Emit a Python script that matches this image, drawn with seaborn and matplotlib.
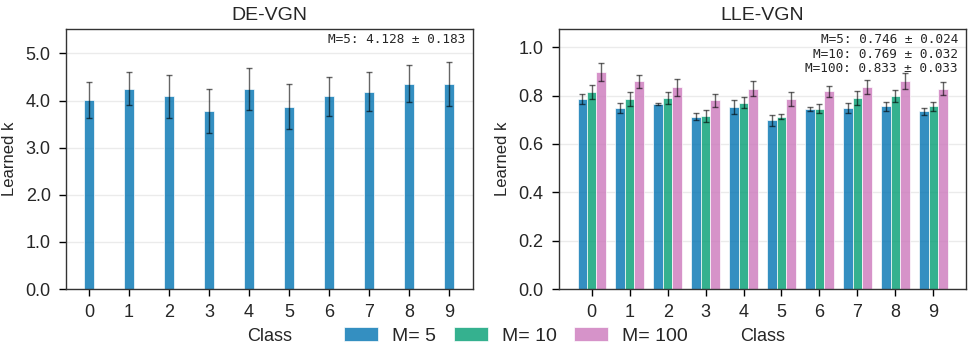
import numpy as np
import pandas as pd
import seaborn as sns
import matplotlib.pyplot as plt

# data
classes = [0, 1, 2, 3, 4, 5, 6, 7, 8, 9]

de_mean = [4.01, 4.25, 4.09, 3.78, 4.25, 3.87, 4.09, 4.19, 4.36, 4.35]
de_err = [0.39, 0.35, 0.45, 0.46, 0.45, 0.48, 0.42, 0.42, 0.39, 0.46]

lle_m5_mean = [0.786, 0.748, 0.764, 0.712, 0.753, 0.697, 0.745, 0.749, 0.755, 0.734]
lle_m5_err = [0.021, 0.019, 0.005, 0.015, 0.028, 0.023, 0.007, 0.020, 0.019, 0.013]
lle_m10_mean = [0.814, 0.785, 0.789, 0.716, 0.770, 0.713, 0.745, 0.789, 0.797, 0.755]
lle_m10_err = [0.030, 0.029, 0.024, 0.025, 0.023, 0.009, 0.018, 0.029, 0.024, 0.020]
lle_m100_mean = [0.897, 0.858, 0.835, 0.780, 0.828, 0.786, 0.817, 0.836, 0.860, 0.828]
lle_m100_err = [0.038, 0.026, 0.035, 0.026, 0.031, 0.028, 0.023, 0.029, 0.034, 0.027]

m_labels = ["M= 5", "M= 10", "M= 100"]
de_summary = "M=5: 4.128 ± 0.183"
lle_summary = "M=5: 0.746 ± 0.024\nM=10: 0.769 ± 0.032\nM=100: 0.833 ± 0.033"

sns.set_style("ticks")
plt.rcParams["font.family"] = ["Liberation Sans", "DejaVu Sans"]
plt.rcParams["axes.edgecolor"] = "#333333"
plt.rcParams["axes.linewidth"] = 1.0

cb = sns.color_palette("colorblind")
colors = [cb[0], cb[2], cb[4]]

fig = plt.figure(figsize=(9.71, 3.45), dpi=100)
W, H = 971, 345
ax1 = fig.add_axes([66 / W, 56 / H, 407 / W, 260 / H])
ax2 = fig.add_axes([559 / W, 56 / H, 407 / W, 260 / H])

# left panel: DE-VGN
df_de = pd.DataFrame({"Class": classes, "k": de_mean})
sns.barplot(data=df_de, x="Class", y="k", color=colors[0], alpha=0.8, saturation=1,
            width=0.25, errorbar=None, edgecolor="white", linewidth=0.6, ax=ax1)
bars = ax1.containers[0]
xs = [p.get_x() + p.get_width() / 2 for p in bars]
ax1.errorbar(xs, de_mean, yerr=de_err, fmt="none", ecolor="black", alpha=0.6,
             elinewidth=1, capsize=2.5, capthick=1)
ax1.set_ylim(0, 5.52)
ax1.set_xlim(-0.575, 9.6)
ax1.set_yticks(np.arange(0, 5.1, 1.0))
ax1.set_yticklabels([f"{v:.1f}" for v in np.arange(0, 5.1, 1.0)])
ax1.set_title("DE-VGN", fontsize=14, pad=6.5)
ax1.text(0.98, 0.983, de_summary, transform=ax1.transAxes, ha="right", va="top",
         family="DejaVu Sans Mono", fontsize=9.2)

# right panel: LLE-VGN
df_lle = pd.DataFrame({
    "Class": classes * 3,
    "k": lle_m5_mean + lle_m10_mean + lle_m100_mean,
    "M": [m_labels[0]] * 10 + [m_labels[1]] * 10 + [m_labels[2]] * 10,
})
sns.barplot(data=df_lle, x="Class", y="k", hue="M", palette=colors, alpha=0.8,
            saturation=1, width=0.75, errorbar=None, edgecolor="white",
            linewidth=0.6, ax=ax2)
for cont, means, errs in zip(ax2.containers,
                             [lle_m5_mean, lle_m10_mean, lle_m100_mean],
                             [lle_m5_err, lle_m10_err, lle_m100_err]):
    xs = [p.get_x() + p.get_width() / 2 for p in cont]
    ax2.errorbar(xs, means, yerr=errs, fmt="none", ecolor="black", alpha=0.6,
                 elinewidth=1, capsize=2, capthick=1)
ax2.set_ylim(0, 1.075)
ax2.set_xlim(-0.8625, 9.8625)
ax2.set_yticks(np.arange(0, 1.01, 0.2))
ax2.set_yticklabels([f"{v:.1f}" for v in np.arange(0, 1.01, 0.2)])
ax2.set_title("LLE-VGN", fontsize=14, pad=6.5)
ax2.text(0.98, 0.983, lle_summary, transform=ax2.transAxes, ha="right", va="top",
         family="DejaVu Sans Mono", fontsize=9.2, multialignment="right",
         linespacing=1.12)
handles, labels = ax2.get_legend_handles_labels()
ax2.get_legend().remove()

for ax in (ax1, ax2):
    ax.set_axisbelow(True)
    ax.yaxis.grid(True, color="#ebebeb", linewidth=1)
    ax.tick_params(labelsize=13, length=5, width=1, color="black")
    ax.tick_params(axis="x", pad=5.5)
    ax.tick_params(axis="y", pad=6)
    ax.set_xlabel("Class", fontsize=13, labelpad=5)
    ax.set_ylabel("Learned k", fontsize=12, labelpad=6)
    for s in ax.spines.values():
        s.set_visible(True)

fig.legend(handles, labels, loc="center", bbox_to_anchor=(516 / W, 9 / H),
           ncol=3, frameon=False, fontsize=14, handlelength=1.75,
           handletextpad=0.72, columnspacing=0.9, borderpad=0.2)

fig.savefig("out.png", dpi=100)
